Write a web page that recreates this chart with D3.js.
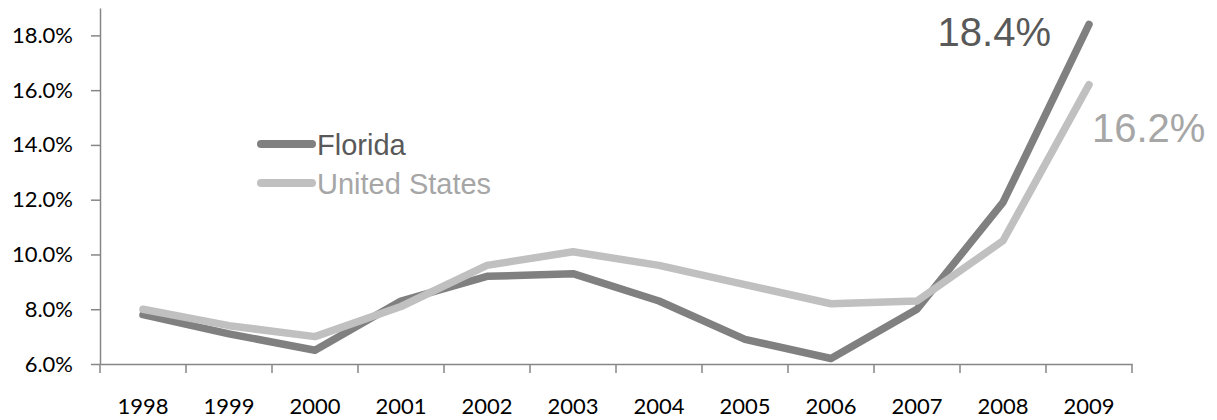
<!DOCTYPE html>
<html>
<head>
<meta charset="utf-8">
<script src="https://cdn.jsdelivr.net/npm/d3@7"></script>
<style>
  html, body { margin: 0; padding: 0; background: #fff; }
  svg { display: block; }
</style>
</head>
<body>
<svg id="chart" width="1217" height="420"></svg>
<script>
const years = ["1998","1999","2000","2001","2002","2003","2004","2005","2006","2007","2008","2009"];
const florida = [7.8, 7.1, 6.5, 8.3, 9.2, 9.3, 8.3, 6.9, 6.2, 8.0, 11.9, 18.4];
const unitedStates = [8.0, 7.4, 7.0, 8.1, 9.6, 10.1, 9.6, 8.9, 8.2, 8.3, 10.5, 16.2];
const yTicks = [6, 8, 10, 12, 14, 16, 18];
const seriesNames = ["Florida", "United States"];
const lineColors = ["#808080", "#c0c0c0"];
const textColors = ["#595959", "#a6a6a6"];
const endLabels = ["18.4%", "16.2%"];

(function () {
const svg = d3.select("#chart");
const mLeft = 100, mRight = 1132, mTop = 8, mBottom = 364;

const x = d3.scaleBand().domain(years).range([mLeft, mRight]);
const y = d3.scaleLinear().domain([6, 19]).range([mBottom, mTop]);

const axisColor = "#868686";
const tickFont = "Lato, 'Open Sans', sans-serif";

const yAxis = svg.append("g").attr("transform", `translate(${mLeft},0)`)
  .call(d3.axisLeft(y).tickValues(yTicks).tickSize(9).tickPadding(18).tickSizeOuter(0)
    .tickFormat(d => d.toFixed(1) + "%"));
yAxis.select(".domain").attr("stroke", axisColor).attr("stroke-width", 1.5);
yAxis.selectAll(".tick line").attr("stroke", axisColor).attr("stroke-width", 1.5);
yAxis.selectAll(".tick text").attr("fill", "#000").style("font-family", tickFont).style("font-size", "22px");

const xAxis = svg.append("g").attr("transform", `translate(0,${mBottom})`)
  .call(d3.axisBottom(x).tickSize(0).tickPadding(34));
xAxis.select(".domain").attr("stroke", axisColor).attr("stroke-width", 1.5);
xAxis.selectAll(".tick text").attr("fill", "#000").style("font-family", tickFont).style("font-size", "22px");
const bounds = d3.range(years.length + 1).map(i => mLeft + i * x.step());
xAxis.selectAll(".bound").data(bounds).enter().append("line")
  .attr("x1", d => d).attr("x2", d => d).attr("y1", 0).attr("y2", 9)
  .attr("stroke", axisColor).attr("stroke-width", 1.5);

const line = d3.line()
  .x((d, i) => x(years[i]) + x.bandwidth() / 2)
  .y(d => y(d));

[florida, unitedStates].forEach((s, k) => {
  svg.append("path").datum(s)
    .attr("d", line)
    .attr("fill", "none")
    .attr("stroke", lineColors[k])
    .attr("stroke-width", 7.5)
    .attr("stroke-linejoin", "round")
    .attr("stroke-linecap", "round");
});

const legendFont = "'Liberation Sans', Arial, sans-serif";
seriesNames.forEach((n, k) => {
  const ly = 144 + k * 39;
  svg.append("line").attr("x1", 261).attr("x2", 312).attr("y1", ly).attr("y2", ly)
    .attr("stroke", lineColors[k]).attr("stroke-width", 8).attr("stroke-linecap", "round");
  svg.append("text").attr("x", 317).attr("y", ly + 11)
    .attr("fill", textColors[k]).style("font-family", legendFont).style("font-size", "29px")
    .text(n);
});

svg.append("text").attr("x", 1051).attr("y", 46).attr("text-anchor", "end")
  .attr("fill", textColors[0]).style("font-family", legendFont).style("font-size", "40px")
  .text(endLabels[0]);
svg.append("text").attr("x", 1092).attr("y", 142)
  .attr("fill", textColors[1]).style("font-family", legendFont).style("font-size", "40px")
  .text(endLabels[1]);
})();
</script>
</body>
</html>
